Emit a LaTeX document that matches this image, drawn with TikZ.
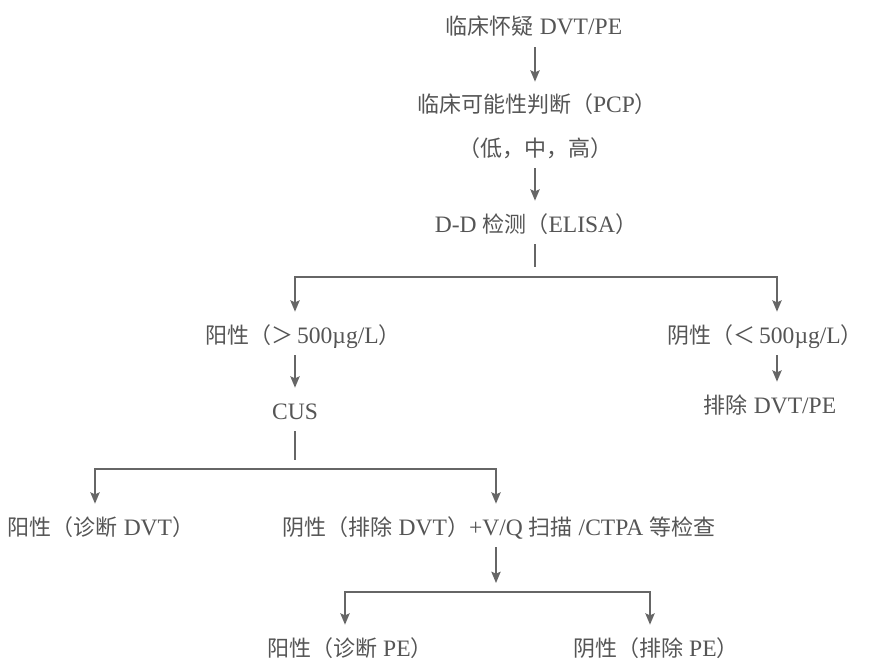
\documentclass[tikz,border=0pt]{standalone}
\usepackage{fontspec}
\setmainfont{Liberation Serif}[Scale=1.07]
\newfontfamily\cjk{Noto Sans CJK SC}
\usetikzlibrary{arrows.meta}
\definecolor{txtgray}{HTML}{555555}
\definecolor{lngray}{HTML}{666666}
\newcommand\zh[1]{{\cjk #1}}
\begin{document}
\begin{tikzpicture}[x=0.75pt,y=-0.75pt,
  txt/.style={inner sep=0pt, outer sep=0pt, anchor=base, text=txtgray,
    font=\fontsize{16.5}{20}\selectfont, text height=13pt, text depth=1.7pt},
  conn/.style={draw=lngray, line width=1.1pt},
  tip/.tip={Stealth[length=8.5pt,width=7pt,inset=1.5pt]},
  arr/.style={conn, -tip, shorten <=7.5pt, shorten >=10.5pt}]
\useasboundingbox[fill=white] (0,0) rectangle (870,660);

% nodes
\node[txt] (n1) at (534,35) {\zh{临床怀疑} DVT/PE};
\node[txt] (n2) at (537,113) {\zh{临床可能性判断（}PCP\zh{）}};
\node[txt] (n3) at (535,156) {\zh{（低，中，高）}};
\node[txt] (n4) at (536,232) {D-D \zh{检测（}ELISA\zh{）}};
\node[txt] (n5) at (303,343) {\zh{阳性（＞}\,500µg/L\zh{）}};
\node[txt] (n6) at (765,343) {\zh{阴性（＜}\,500µg/L\zh{）}};
\node[txt] (n7) at (295,419) {CUS};
\node[txt] (n8) at (770,413) {\zh{排除} DVT/PE};
\node[txt] (n9) at (101,535) {\zh{阳性（诊断} DVT\zh{）}};
\node[txt] (n10) at (499,535) {\zh{阴性（排除} DVT\zh{）}+V/Q \zh{扫描} /CTPA \zh{等检查}};
\node[txt] (n11) at (350,656) {\zh{阳性（诊断} PE\zh{）}};
\node[txt] (n12) at (656,656) {\zh{阴性（排除} PE\zh{）}};

% junction coordinates
\coordinate (s1) at (535,267);
\coordinate (b1l) at (295,277);
\coordinate (b1r) at (777,277);
\coordinate (s2) at (295,460);
\coordinate (b2l) at (95,469);
\coordinate (b2r) at (496,469);
\coordinate (a3) at (496,583);
\coordinate (b3l) at (345,592);
\coordinate (b3r) at (650,592);

% connectors
\draw[arr] (n1.south -| s1) -- (n2.north -| s1);
\draw[arr] (n3.south -| s1) -- (n4.north -| s1);
\draw[conn, shorten <=7.5pt] (n4.south -| s1) -- (s1);
\draw[conn, tip-tip, shorten <=10.5pt, shorten >=10.5pt]
  (n5.north -| b1l) -- (b1l) -- (b1r) -- (n6.north -| b1r);
\draw[arr] (n5.south -| b1l) -- (n7.north -| b1l);
\draw[arr] (n6.south -| b1r) -- (n8.north -| b1r);
\draw[conn, shorten <=7.5pt] (n7.south -| s2) -- (s2);
\draw[conn, tip-tip, shorten <=10.5pt, shorten >=10.5pt]
  (n9.north -| b2l) -- (b2l) -- (b2r) -- (n10.north -| b2r);
\draw[conn, -tip, shorten <=7.5pt] (n10.south -| a3) -- (a3);
\draw[conn, tip-tip, shorten <=10.5pt, shorten >=10.5pt]
  (n11.north -| b3l) -- (b3l) -- (b3r) -- (n12.north -| b3r);
\end{tikzpicture}
\end{document}
